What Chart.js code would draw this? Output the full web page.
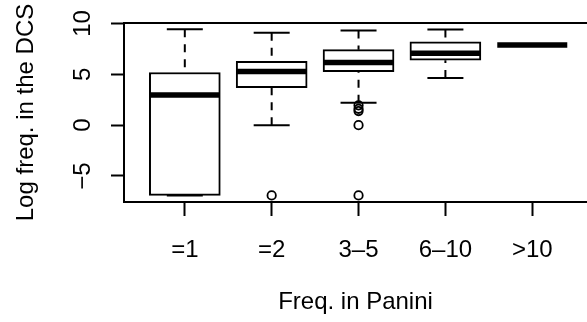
<!DOCTYPE html>
<html>
<head>
<meta charset="utf-8">
<title>Log freq. in the DCS by freq. in Panini</title>
<script src="https://cdn.jsdelivr.net/npm/chart.js@4/dist/chart.umd.min.js"></script>
<style>
  html, body { margin: 0; padding: 0; background: #fff; overflow: hidden; }
  canvas { display: block; }
</style>
</head>
<body>
<canvas id="boxChart" width="587" height="322"></canvas>
<script>
// --- Data: five-number summaries per frequency group ---
const categories  = ['=1', '=2', '3\u20135', '6\u201310', '>10'];
const whiskerLow  = [-6.91, 0.00, 2.20, 4.63, 7.89];
const boxLow      = [-6.91, 3.68, 5.25, 6.39, 7.89];
const medians     = [ 2.96, 5.27, 6.16, 7.08, 7.89];
const boxHigh     = [ 5.18, 6.29, 7.43, 8.19, 7.89];
const whiskerHigh = [ 9.43, 9.10, 9.30, 9.40, 7.89];
const outliers    = [[], [-6.91], [1.95, 1.61, 1.39, 0, -6.91], [], []];
const yTicks      = [-5, 0, 5, 10];

const FONT_FAMILY = "'Liberation Sans', Arial, sans-serif";
const FONT_SIZE = 24;

// --- Build datasets from the summaries ---
const boxes = categories.map((c, i) => ({ x: i + 1, y: [boxLow[i], boxHigh[i]] }));

// dashed whisker runs from each whisker end to the hinge, null breaks the line
const whiskers = [];
categories.forEach((c, i) => {
    whiskers.push({ x: i + 1, y: whiskerHigh[i] }, { x: i + 1, y: boxHigh[i] }, { x: i + 1, y: null });
    whiskers.push({ x: i + 1, y: whiskerLow[i] }, { x: i + 1, y: boxLow[i] }, { x: i + 1, y: null });
});

const caps = [];
categories.forEach((c, i) => {
    caps.push({ x: i + 1, y: whiskerHigh[i] }, { x: i + 1, y: whiskerLow[i] });
});

const medianPts = categories.map((c, i) => ({ x: i + 1, y: medians[i] }));

const outlierPts = [];
outliers.forEach((list, i) => list.forEach(v => outlierPts.push({ x: i + 1, y: v })));

// --- y tick labels (rotated), y title and top frame line ---
const axisText = {
    id: 'axisText',
    afterDraw(chart) {
        const { ctx, chartArea, scales: { y } } = chart;
        ctx.save();
        ctx.fillStyle = '#000';
        ctx.font = FONT_SIZE + 'px ' + FONT_FAMILY;
        ctx.textAlign = 'center';
        ctx.textBaseline = 'alphabetic';

        y.ticks.forEach(t => {
            ctx.save();
            ctx.translate(90, y.getPixelForValue(t.value));
            ctx.rotate(-Math.PI / 2);
            ctx.fillText(t.label, 0, 0);
            ctx.restore();
        });

        ctx.save();
        ctx.translate(33, (chartArea.top + chartArea.bottom) / 2);
        ctx.rotate(-Math.PI / 2);
        ctx.fillText('Log freq. in the DCS', 0, 0);
        ctx.restore();

        ctx.strokeStyle = '#000';
        ctx.lineWidth = 2;
        ctx.beginPath();
        ctx.moveTo(chartArea.left - 1, chartArea.top);
        ctx.lineTo(chartArea.right, chartArea.top);
        ctx.stroke();
        ctx.restore();
    }
};

Chart.defaults.font.family = FONT_FAMILY;
Chart.defaults.font.size = FONT_SIZE;
Chart.defaults.color = '#000';

const ctx = document.getElementById('boxChart').getContext('2d');
new Chart(ctx, {
    type: 'bar',
    data: {
        datasets: [
            {
                type: 'line',
                data: whiskers,
                borderColor: '#000',
                borderWidth: 2,
                borderDash: [8, 7],
                pointRadius: 0,
                spanGaps: false,
                order: 4
            },
            {
                type: 'bar',
                data: boxes,
                backgroundColor: '#fff',
                borderColor: '#000',
                borderWidth: 2,
                borderSkipped: false,
                barThickness: 71,
                order: 3
            },
            {
                type: 'scatter',
                data: caps,
                pointStyle: 'line',
                pointRadius: 18,
                borderColor: '#000',
                borderWidth: 2,
                order: 2
            },
            {
                type: 'scatter',
                data: medianPts,
                pointStyle: 'line',
                pointRadius: 35,
                borderColor: '#000',
                borderWidth: 5.5,
                order: 1
            },
            {
                type: 'scatter',
                data: outlierPts,
                pointStyle: 'circle',
                pointRadius: 4.2,
                backgroundColor: 'rgba(0,0,0,0)',
                borderColor: '#000',
                borderWidth: 1.8,
                order: 0
            }
        ]
    },
    options: {
        responsive: false,
        devicePixelRatio: 1,
        animation: false,
        layout: { autoPadding: false, padding: { top: 23, right: 0, bottom: 0, left: 0 } },
        plugins: {
            legend: { display: false },
            tooltip: { enabled: false }
        },
        scales: {
            x: {
                type: 'linear',
                min: 0.3,
                max: 5.63,
                offset: false,
                afterBuildTicks: s => { s.ticks = categories.map((c, i) => ({ value: i + 1 })); },
                afterFit: s => { s.height = 120; },
                ticks: {
                    autoSkip: false,
                    maxRotation: 0,
                    minRotation: 0,
                    padding: 20,
                    callback: v => categories[v - 1]
                },
                grid: {
                    offset: false,
                    drawOnChartArea: false,
                    tickLength: 14,
                    tickWidth: 2,
                    tickColor: '#000'
                },
                border: { display: true, color: '#000', width: 2 },
                title: {
                    display: true,
                    text: 'Freq. in Panini',
                    padding: { top: 0, bottom: 5 }
                }
            },
            y: {
                min: -7.56,
                max: 10.05,
                afterBuildTicks: s => { s.ticks = yTicks.map(v => ({ value: v })); },
                afterFit: s => { s.width = 124; },
                ticks: {
                    display: false,
                    callback: v => (v < 0 ? '\u2212' + Math.abs(v) : String(v))
                },
                grid: {
                    drawOnChartArea: false,
                    tickLength: 13,
                    tickWidth: 2,
                    tickColor: '#000'
                },
                border: { display: true, color: '#000', width: 2 }
            }
        }
    },
    plugins: [axisText]
});
</script>
</body>
</html>
